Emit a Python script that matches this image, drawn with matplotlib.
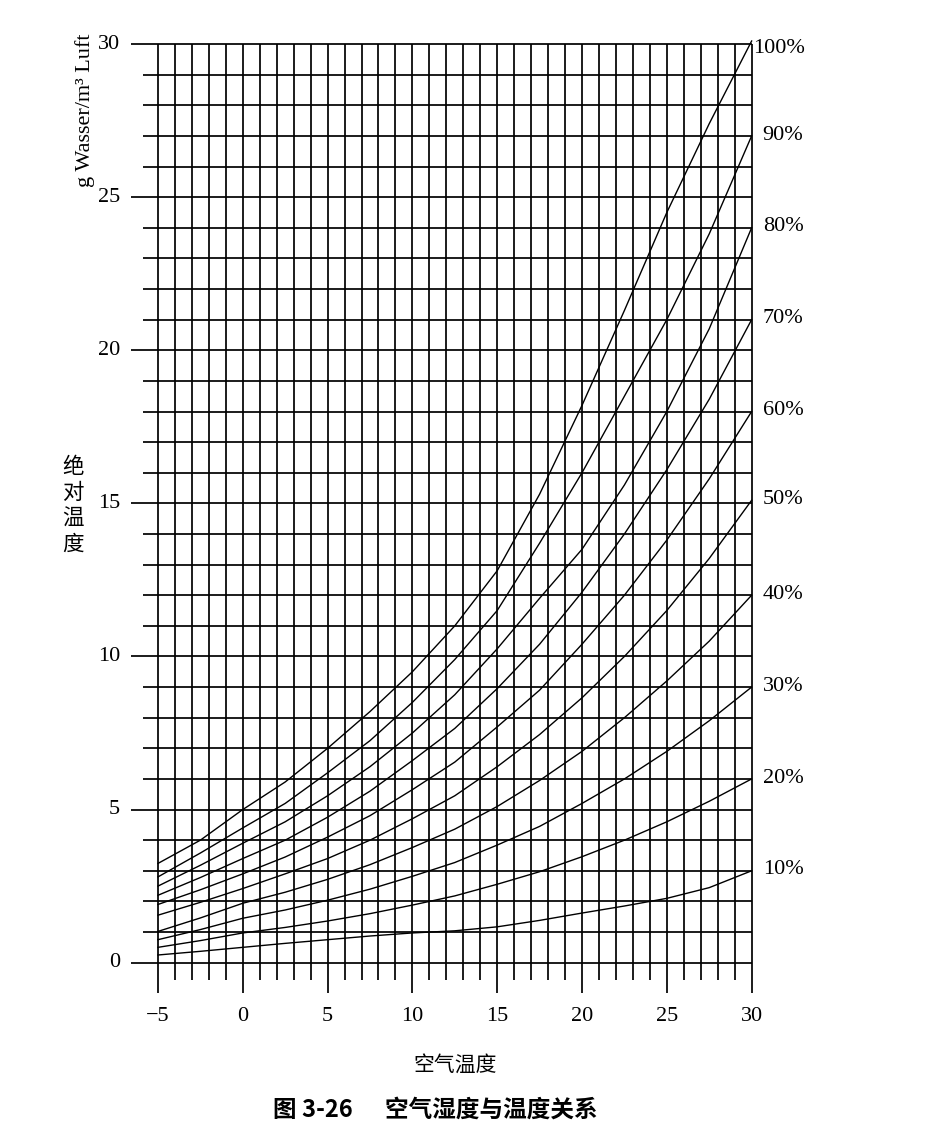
import matplotlib.pyplot as plt

# Temperature grid of the chart (deg C) and absolute humidity (g/m3)
temps = [-5, -2.5, 0, 2.5, 5, 7.5, 10, 12.5, 15, 17.5, 20, 22.5, 25, 27.5, 30]

rh_100 = [3.24, 4.0, 5.0, 5.9, 7.0, 8.2, 9.5, 11.0, 12.8, 15.3, 18.2, 21.3, 24.5, 27.4, 30.1]
rh_90 = [2.8, 3.58, 4.4, 5.2, 6.2, 7.25, 8.5, 9.9, 11.5, 13.7, 16.0, 18.5, 21.0, 23.8, 27.0]
rh_80 = [2.5, 3.18, 3.9, 4.6, 5.45, 6.4, 7.5, 8.75, 10.25, 11.9, 13.5, 15.6, 18.0, 20.7, 24.0]
rh_70 = [2.2, 2.78, 3.4, 4.0, 4.75, 5.6, 6.6, 7.65, 8.95, 10.4, 12.1, 14.0, 16.1, 18.4, 21.0]
rh_60 = [1.9, 2.38, 2.9, 3.45, 4.1, 4.8, 5.65, 6.55, 7.7, 8.9, 10.4, 12.0, 13.8, 15.8, 18.0]
rh_50 = [1.55, 1.97, 2.42, 2.9, 3.4, 4.0, 4.7, 5.45, 6.4, 7.45, 8.65, 10.0, 11.5, 13.2, 15.1]
rh_40 = [1.02, 1.46, 1.94, 2.3, 2.72, 3.2, 3.76, 4.36, 5.1, 5.95, 6.9, 8.0, 9.2, 10.5, 12.0]
rh_30 = [0.75, 1.08, 1.45, 1.72, 2.04, 2.4, 2.82, 3.27, 3.84, 4.45, 5.2, 6.0, 6.9, 7.9, 9.0]
rh_20 = [0.5, 0.72, 0.97, 1.15, 1.36, 1.6, 1.88, 2.18, 2.56, 2.97, 3.46, 4.0, 4.6, 5.27, 6.0]
rh_10 = [0.25, 0.37, 0.5, 0.63, 0.75, 0.87, 0.97, 1.04, 1.17, 1.38, 1.62, 1.85, 2.1, 2.45, 3.0]

curves = [rh_100, rh_90, rh_80, rh_70, rh_60, rh_50, rh_40, rh_30, rh_20, rh_10]
curve_labels = ["100%", "90%", "80%", "70%", "60%", "50%", "40%", "30%", "20%", "10%"]

x_ticks = [-5, 0, 5, 10, 15, 20, 25, 30]
y_ticks = [0, 5, 10, 15, 20, 25, 30]

serif = "Liberation Serif"
cjk = ["Noto Sans CJK SC", "DejaVu Sans"]

fig = plt.figure(figsize=(9.31, 11.30), dpi=100)
ax = fig.add_axes([0.1150, 0.0939, 0.7470, 0.8942])
ax.set_xlim(-8, 33)
ax.set_ylim(-2, 31)
ax.axis("off")

# grid: one line per degree and per gram, longer stubs at the labelled values
for y in range(0, 31):
    x0 = -6.6 if y % 5 == 0 else -5.9
    ax.plot([x0, 30], [y, y], color="black", lw=1.25, solid_capstyle="butt")
for x in range(-5, 31):
    y0 = -0.98 if x % 5 == 0 else -0.58
    ax.plot([x, x], [y0, 30], color="black", lw=1.25, solid_capstyle="butt")

for vals in curves:
    ax.plot(temps, vals, color="black", lw=1.0)

for label, vals in zip(curve_labels, curves):
    if label == "100%":
        ax.text(30.1, 29.87, label, fontsize=16, family=serif, va="center", ha="left")
    else:
        ax.text(30.65, vals[-1] + 0.03, label, fontsize=16, family=serif, va="center", ha="left")

for y in y_ticks:
    ax.text(-7.24, y, str(y), fontsize=16, family=serif, ha="right", va="center")
for x in x_ticks:
    ax.text(x, -1.76, str(x).replace("-", "\u2212"), fontsize=16, family=serif,
            ha="center", va="center")

fig.text(0.0913, 0.9027, "g Wasser/m\u00b3 Luft", rotation=90, fontsize=16,
         family=serif, ha="center", va="center")

for i, ch in enumerate("绝对温度"):
    fig.text(0.0784, 1 - (467 + i * 26) / 1130, ch, fontsize=15.5, family=cjk,
             ha="center", va="center")

fig.text(0.4887, 0.0575, "空气温度", fontsize=15, family=cjk, ha="center", va="center")
fig.text(0.468, 0.0177, "图 3-26      空气湿度与温度关系", fontsize=17, family=cjk,
         fontweight="bold", ha="center", va="center")

fig.savefig("out.png", dpi=100)
